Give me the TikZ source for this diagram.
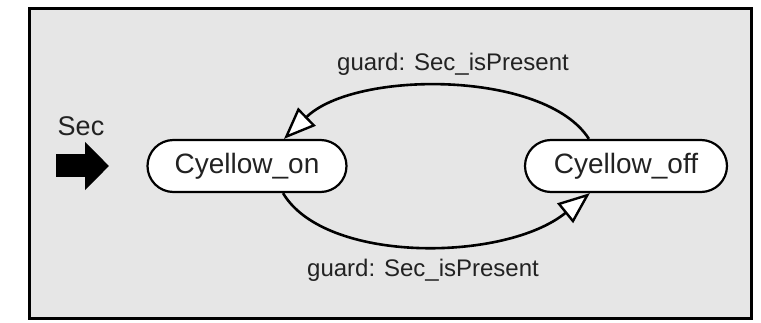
\documentclass[tikz,border=0pt]{standalone}
\usepackage{fontspec}
\setmainfont{Liberation Sans}
\usetikzlibrary{arrows.meta,calc}
\definecolor{panel}{HTML}{E6E6E6}
\definecolor{ink}{HTML}{222222}
\begin{document}
\begin{tikzpicture}[x=1pt,y=-1pt,
  state/.style={draw=black, line width=2.2pt, fill=white, rounded corners=26pt,
    minimum height=52pt, inner sep=0pt, text=ink,
    font=\fontsize{28}{30}\selectfont},
  guardlabel/.style={text=ink, font=\fontsize{24}{26}\selectfont},
  transition/.style={line width=2.6pt,
    -{Triangle[open, fill=white, length=32pt, width=25pt, line width=2.4pt]}}]
  \useasboundingbox (0,0) rectangle (761,323);
  % chart frame
  \draw[line width=3pt, fill=panel] (29,9) rectangle (751,319);
  % states
  \node[state, minimum width=199pt] (on)  at (247,166) {Cyellow\_on};
  \node[state, minimum width=202pt] (off) at (626,166) {Cyellow\_off};
  % default transition marker
  \node[text=ink, font=\fontsize{27}{29}\selectfont] (sec) at (81,126) {Sec};
  \coordinate (defstart) at (56,166);
  \coordinate (defend) at (109,166);
  \draw[line width=23pt, -{Triangle[length=24pt, width=47pt]}] (defstart) -- (defend);
  % transitions
  \draw[transition] ($(off.north west)+(65,0)$)
    .. controls (545,70) and (355,70) .. ($(on.north)+(37,0)$);
  \draw[transition] ($(on.south)+(36,0)$)
    .. controls (325,264) and (505,262) .. ($(off.south west)+(66,0)$);
  % guard labels
  \node[guardlabel] (gtop) at (453,64) {guard: Sec\_isPresent};
  \node[guardlabel] (gbot) at (423,270) {guard: Sec\_isPresent};
\end{tikzpicture}
\end{document}
